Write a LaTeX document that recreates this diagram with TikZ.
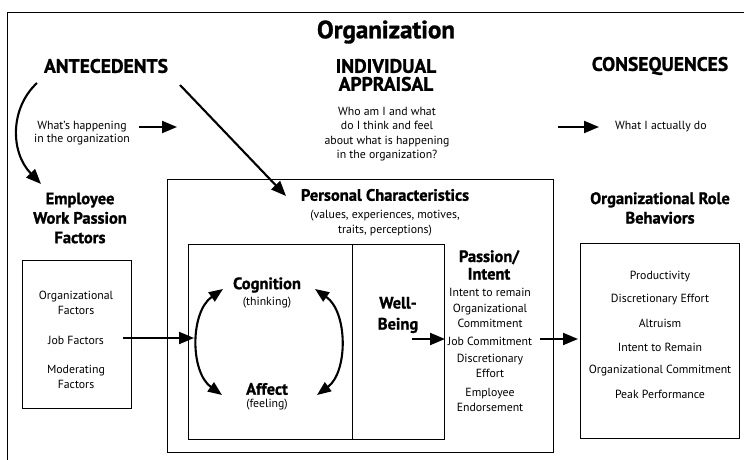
\documentclass[tikz,border=0pt]{standalone}
\usepackage{fontspec}
\setmainfont{PT Sans}[BoldFeatures={FakeBold=1.2}]
\usetikzlibrary{arrows.meta}
\begin{document}
\begin{tikzpicture}[x=1pt,y=-1pt,
  body/.style={font=\fontsize{11.8}{14.5}\selectfont, align=center, inner sep=0pt},
  head/.style={font=\fontsize{19.5}{18}\selectfont\bfseries, align=center, inner sep=0pt},
  sub/.style={font=\fontsize{16.5}{19.5}\selectfont\bfseries, align=center, inner sep=0pt},
  box/.style={draw, line width=0.9pt},
  tip/.style={},
  arr/.style={line width=2.1pt, -{Triangle[length=15pt,width=12pt]}},
  darr/.style={line width=2.1pt, {Triangle[length=14pt,width=11pt]}-{Triangle[length=14pt,width=11pt]}}]
\useasboundingbox (0,0) rectangle (744,460);
% outer frame
\draw[line width=0.9pt] (7,460) -- (7,12) -- (744,12);
% boxes
\draw[box] (167,179) rectangle (553,452);
\draw[box] (188,244) rectangle (444,439);
\draw[box] (352,244) -- (352,439);
\draw[box] (22,260) rectangle (131,408);
\draw[box] (580,243) rectangle (739,438);
% headings
\node[font=\fontsize{25}{27}\selectfont\bfseries, inner sep=0pt] (org) at (386,32) {Organization};
\node[head] (ante) at (106,66) {ANTECEDENTS};
\node[head, font=\fontsize{19.5}{18}\selectfont\bfseries] (indiv) at (386,75) {INDIVIDUAL\\APPRAISAL};
\node[head] (cons) at (660,66) {CONSEQUENCES};
% texts
\node[body, font=\fontsize{11.8}{12.8}\selectfont] (what) at (82,133) {What’s happening\\in the organization};
\node[body] (who) at (387,134) {Who am I and what\\do I think and feel\\about what is happening\\in the organization?};
\node[body, anchor=west] (actual) at (615,127) {What I actually do};
\coordinate (w1) at (139,127);
\coordinate (w2) at (177,127);
\draw[arr] (w1) -- (w2);
\coordinate (c1) at (558,127);
\coordinate (c2) at (599,127);
\draw[arr] (c1) -- (c2);
% employee factors
\node[sub] (emp) at (80,218) {Employee\\Work Passion\\Factors};
\node[body, font=\fontsize{11.8}{15}\selectfont] (of) at (76,303) {Organizational\\Factors};
\node[body] (jf) at (76,340) {Job Factors};
\node[body, font=\fontsize{11.8}{15}\selectfont] (mf) at (76,377) {Moderating\\Factors};
% personal characteristics
\node[sub] (pc) at (385,195) {Personal Characteristics};
\node[body, font=\fontsize{11.8}{15}\selectfont] (pcv) at (385,223) {(values, experiences, motives,\\traits, perceptions)};
\node[sub] (cog) at (267,285) {Cognition};
\node[body] (think) at (267,303) {(thinking)};
\node[sub] (aff) at (267,389) {Affect};
\node[body] (feel) at (267,405) {(feeling)};
\node[sub, font=\fontsize{16.5}{21}\selectfont\bfseries] (wb) at (398,315) {Well-\\Being};
\node[sub, font=\fontsize{16.5}{17.5}\selectfont\bfseries] (pi) at (489,265) {Passion/\\Intent};
\node[body] (p1) at (490,292) {Intent to remain};
\node[body] (p2) at (490,316) {Organizational\\Commitment};
\node[body] (p3) at (490,341) {Job Commitment};
\node[body] (p4) at (490,366) {Discretionary\\Effort};
\node[body] (p5) at (490,400) {Employee\\Endorsement};
% behaviors
\node[sub] (orb) at (660,208) {Organizational Role\\Behaviors};
\node[body] (b1) at (660,277) {Productivity};
\node[body] (b2) at (660,300) {Discretionary Effort};
\node[body] (b3) at (660,323) {Altruism};
\node[body] (b4) at (660,347) {Intent to Remain};
\node[body] (b5) at (660,371) {Organizational Commitment};
\node[body] (b6) at (660,394) {Peak Performance};
% arrows
\coordinate (a1) at (37,83);
\coordinate (a2) at (41,184);
\draw[arr] (a1) .. controls (10,108) and (10,152) .. (a2);
\coordinate (a3) at (180,85);
\coordinate (a4) at (286,196);
\draw[arr] (a3) -- (a4);
\coordinate (j1) at (123,338);
\coordinate (j2) at (194,338);
\draw[arr] (j1) -- (j2);
\coordinate (l1) at (223,289);
\coordinate (l2) at (222,395);
\draw[darr] (l1) .. controls (190,312) and (190,372) .. (l2);
\coordinate (r1) at (315,289);
\coordinate (r2) at (317,395);
\draw[darr] (r1) .. controls (348,312) and (348,372) .. (r2);
\coordinate (k1) at (412,339);
\coordinate (k2) at (445,339);
\draw[arr] (k1) -- (k2);
\coordinate (m1) at (540,339);
\coordinate (m2) at (578,339);
\draw[arr] (m1) -- (m2);
\end{tikzpicture}
\end{document}
